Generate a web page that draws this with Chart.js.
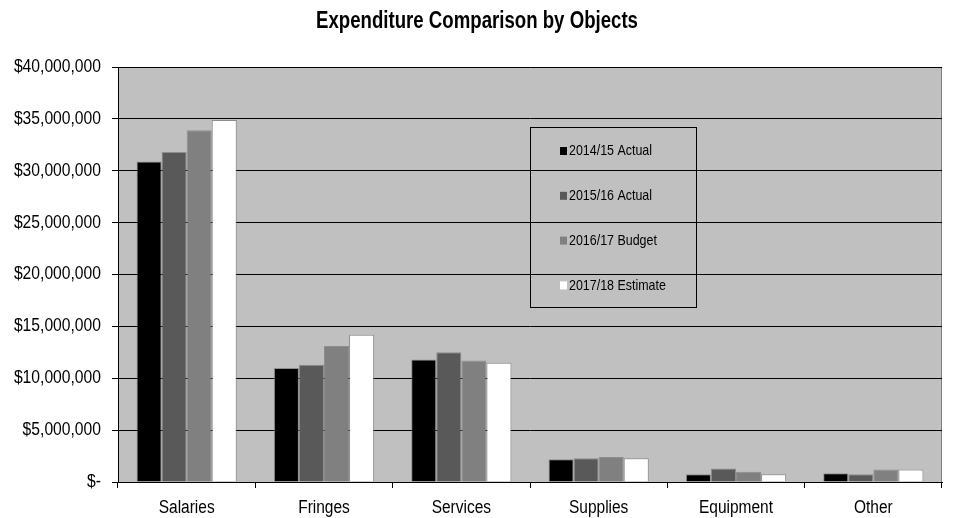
<!DOCTYPE html>
<html>
<head>
<meta charset="utf-8">
<title>Expenditure Comparison by Objects</title>
<script src="https://cdn.jsdelivr.net/npm/chart.js@4/dist/chart.umd.min.js"></script>
<style>
  body { margin: 0; background: #fff; }
  #wrap { width: 953px; height: 518px; }
</style>
</head>
<body>
<div id="wrap"><canvas id="chart" width="953" height="518"></canvas></div>
<script>
const chartTitle = 'Expenditure Comparison by Objects';
const categories = ['Salaries', 'Fringes', 'Services', 'Supplies', 'Equipment', 'Other'];
const seriesNames = ['2014/15 Actual', '2015/16 Actual', '2016/17 Budget', '2017/18 Estimate'];
const actual1415 = [30900000, 11000000, 11800000, 2200000, 750000, 850000];
const actual1516 = [31800000, 11300000, 12500000, 2300000, 1300000, 750000];
const budget1617 = [33900000, 13100000, 11700000, 2400000, 1000000, 1200000];
const estimate1718 = [34900000, 14200000, 11500000, 2300000, 750000, 1200000];
const seriesColors = ['#000000', '#595959', '#808080', '#ffffff'];

const FONT = "'Liberation Sans', Arial, sans-serif";
Chart.defaults.font.family = FONT;
Chart.defaults.color = '#000';

// narrow-looking text: squeeze horizontally around the anchor point
function narrowText(ctx, text, x, y, align, font, squeeze) {
  ctx.save();
  ctx.translate(x, y);
  ctx.scale(squeeze, 1);
  ctx.font = font;
  ctx.fillStyle = '#000';
  ctx.textAlign = align;
  ctx.textBaseline = 'middle';
  ctx.fillText(text, 0, 0);
  ctx.restore();
}

function money(v) {
  return v === 0 ? '$-' : '$' + v.toLocaleString('en-US');
}

// grey plot background plus the thin frame on top / right
const plotFrame = {
  id: 'plotFrame',
  beforeDraw(chart) {
    const { ctx, chartArea: a } = chart;
    ctx.save();
    ctx.fillStyle = '#c0c0c0';
    ctx.fillRect(a.left, a.top, a.right - a.left, a.bottom - a.top);
    ctx.strokeStyle = '#808080';
    ctx.lineWidth = 1;
    ctx.beginPath();
    ctx.moveTo(a.left, a.top + 0.5);
    ctx.lineTo(a.right - 0.5, a.top + 0.5);
    ctx.lineTo(a.right - 0.5, a.bottom);
    ctx.stroke();
    ctx.restore();
  }
};

// title and axis labels in a condensed face
const labels = {
  id: 'labels',
  afterDraw(chart) {
    const { ctx, scales: { x, y } } = chart;
    narrowText(ctx, chartTitle, 477, 22, 'center', 'bold 23px ' + FONT, 0.81);
    y.ticks.forEach((t, i) => {
      narrowText(ctx, money(t.value), 101, y.getPixelForTick(i), 'right', '18px ' + FONT, 0.87);
    });
    chart.data.labels.forEach((lab, i) => {
      narrowText(ctx, lab, x.getPixelForTick(i), 508, 'center', '18px ' + FONT, 0.86);
    });
  }
};

// boxed legend sitting inside the plot
const boxLegend = {
  id: 'boxLegend',
  afterDraw(chart) {
    const { ctx } = chart;
    ctx.save();
    ctx.strokeStyle = '#000';
    ctx.lineWidth = 1;
    ctx.strokeRect(530.5, 127.5, 166, 180);
    chart.data.datasets.forEach((ds, i) => {
      const cy = 151 + i * 44.8;
      ctx.fillStyle = ds.backgroundColor;
      ctx.fillRect(560, cy - 4, 7, 8);
      narrowText(ctx, ds.label, 569, cy, 'left', '15px ' + FONT, 0.83);
    });
    ctx.restore();
  }
};

const seriesData = [actual1415, actual1516, budget1617, estimate1718];

new Chart(document.getElementById('chart'), {
  type: 'bar',
  data: {
    labels: categories,
    datasets: seriesNames.map((name, i) => ({
      label: name,
      data: seriesData[i],
      backgroundColor: seriesColors[i],
      borderColor: 'rgba(120,120,120,0.7)',
      borderWidth: 1,
      categoryPercentage: 0.73,
      barPercentage: 1.0
    }))
  },
  options: {
    responsive: false,
    animation: false,
    layout: { padding: { left: 0, right: 11, top: 67, bottom: 0 } },
    plugins: {
      legend: { display: false },
      tooltip: { enabled: false },
      title: { display: false }
    },
    scales: {
      x: {
        offset: true,
        grid: { display: true, drawOnChartArea: false, drawTicks: true, tickLength: 6, tickColor: '#000', offset: true },
        border: { display: true, color: '#000', width: 1 },
        ticks: { display: false },
        afterFit(scale) { scale.height = 36; }
      },
      y: {
        min: 0,
        max: 40000000,
        grid: { color: '#000', lineWidth: 1, tickLength: 6, tickColor: '#000' },
        border: { display: true, color: '#000', width: 1 },
        ticks: { display: false, stepSize: 5000000 },
        afterFit(scale) { scale.width = 118; }
      }
    }
  },
  plugins: [plotFrame, labels, boxLegend]
});
</script>
</body>
</html>
